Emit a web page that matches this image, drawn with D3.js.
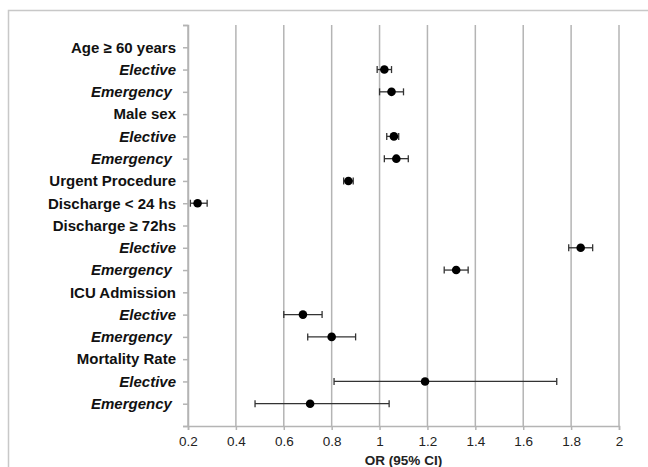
<!DOCTYPE html>
<html>
<head>
<meta charset="utf-8">
<script src="https://cdn.jsdelivr.net/npm/d3@7"></script>
<style>
  body { margin: 0; background: #fff; }
  svg { display: block; font-family: "Liberation Sans", Arial, sans-serif; }
</style>
</head>
<body>
<div id="chart"></div>
<script>
// rows, top to bottom
const labels = [
  "Age \u2265 60 years", "Elective", "Emergency ",
  "Male sex", "Elective", "Emergency ",
  "Urgent Procedure", "Discharge < 24 hs",
  "Discharge \u2265 72hs", "Elective", "Emergency ",
  "ICU Admission", "Elective", "Emergency ",
  "Mortality Rate", "Elective", "Emergency "
]
const italicRow = [false, true, true, false, true, true, false, false, false, true, true, false, true, true, false, true, true]
// odds ratio with 95% CI (null = header row, no estimate)
const or    = [null, 1.02, 1.05, null, 1.06, 1.07, 0.87, 0.24, null, 1.84, 1.32, null, 0.68, 0.80, null, 1.19, 0.71]
const ciLow = [null, 0.99, 1.00, null, 1.03, 1.02, 0.85, 0.21, null, 1.79, 1.27, null, 0.60, 0.70, null, 0.81, 0.48]
const ciHigh= [null, 1.05, 1.10, null, 1.08, 1.12, 0.89, 0.28, null, 1.89, 1.37, null, 0.76, 0.90, null, 1.74, 1.04]
const xTicks = [0.2, 0.4, 0.6, 0.8, 1, 1.2, 1.4, 1.6, 1.8, 2]

const width = 648, height = 467
const margin = { top: 25, left: 188, right: 29, bottom: 41 }

const svg = d3.select("#chart").append("svg")
  .attr("width", width)
  .attr("height", height)

// outer frame
svg.append("rect")
  .attr("x", 8.5).attr("y", 10.5)
  .attr("width", width + 10).attr("height", height + 10)
  .attr("fill", "none")
  .attr("stroke", "#c8c8c8")
  .attr("stroke-width", 1.5)

const x = d3.scaleLinear()
  .domain([0.2, 2])
  .range([margin.left, width - margin.right])

// row index 1..17, 0 and 18 are the plot edges
const y = d3.scaleLinear()
  .domain([0, labels.length + 1])
  .range([margin.top, height - margin.bottom])

const grid = "#b4b4b4"

// vertical gridlines
svg.append("g")
  .selectAll("line")
  .data(xTicks)
  .join("line")
  .attr("x1", d => x(d)).attr("x2", d => x(d))
  .attr("y1", y(0)).attr("y2", y(labels.length + 1))
  .attr("stroke", grid)
  .attr("stroke-width", 1.5)

// x axis
const xAxis = d3.axisBottom(x)
  .tickValues(xTicks)
  .tickFormat(d3.format("~g"))
  .tickSize(4)
  .tickPadding(6)

const gx = svg.append("g")
  .attr("transform", `translate(0, ${y(labels.length + 1)})`)
  .call(xAxis)
gx.select(".domain").attr("stroke", grid).attr("stroke-width", 1.5)
gx.selectAll(".tick line").attr("stroke", grid).attr("stroke-width", 1.5)
gx.selectAll(".tick text")
  .attr("fill", "#222")
  .style("font-size", "13.5px")

svg.append("text")
  .attr("x", (x(0.2) + x(2)) / 2)
  .attr("y", 465)
  .attr("text-anchor", "middle")
  .attr("fill", "#222")
  .style("font-size", "13.5px")
  .style("font-weight", "bold")
  .text("OR (95% CI)")

// y axis: ticks at every row and at both ends
const yAxis = d3.axisLeft(y)
  .tickValues(d3.range(0, labels.length + 2))
  .tickFormat(d => (d >= 1 && d <= labels.length) ? labels[d - 1] : "")
  .tickSize(5)
  .tickPadding(7)

const gy = svg.append("g")
  .attr("transform", `translate(${margin.left}, 0)`)
  .call(yAxis)
gy.select(".domain").attr("stroke", grid).attr("stroke-width", 1.5)
gy.selectAll(".tick line").attr("stroke", grid).attr("stroke-width", 1.5)
gy.selectAll(".tick text")
  .attr("fill", "#111")
  .style("font-size", "15px")
  .style("font-weight", "bold")
  .style("white-space", "pre")
  .style("font-style", d => (d >= 1 && d <= labels.length && italicRow[d - 1]) ? "italic" : "normal")

// estimates
const rows = labels.map((l, i) => ({ i: i + 1, or: or[i], lo: ciLow[i], hi: ciHigh[i] }))
  .filter(d => d.or !== null)

const marks = svg.append("g")
const capH = 3.5

marks.selectAll("line.ci")
  .data(rows)
  .join("line")
  .attr("class", "ci")
  .attr("x1", d => x(d.lo)).attr("x2", d => x(d.hi))
  .attr("y1", d => y(d.i)).attr("y2", d => y(d.i))
  .attr("stroke", "#333").attr("stroke-width", 1.3)

marks.selectAll("line.capL")
  .data(rows)
  .join("line")
  .attr("class", "capL")
  .attr("x1", d => x(d.lo)).attr("x2", d => x(d.lo))
  .attr("y1", d => y(d.i) - capH).attr("y2", d => y(d.i) + capH)
  .attr("stroke", "#333").attr("stroke-width", 1.3)

marks.selectAll("line.capH")
  .data(rows)
  .join("line")
  .attr("class", "capH")
  .attr("x1", d => x(d.hi)).attr("x2", d => x(d.hi))
  .attr("y1", d => y(d.i) - capH).attr("y2", d => y(d.i) + capH)
  .attr("stroke", "#333").attr("stroke-width", 1.3)

marks.selectAll("circle")
  .data(rows)
  .join("circle")
  .attr("cx", d => x(d.or))
  .attr("cy", d => y(d.i))
  .attr("r", 4.3)
  .attr("fill", "#000")
</script>
</body>
</html>
